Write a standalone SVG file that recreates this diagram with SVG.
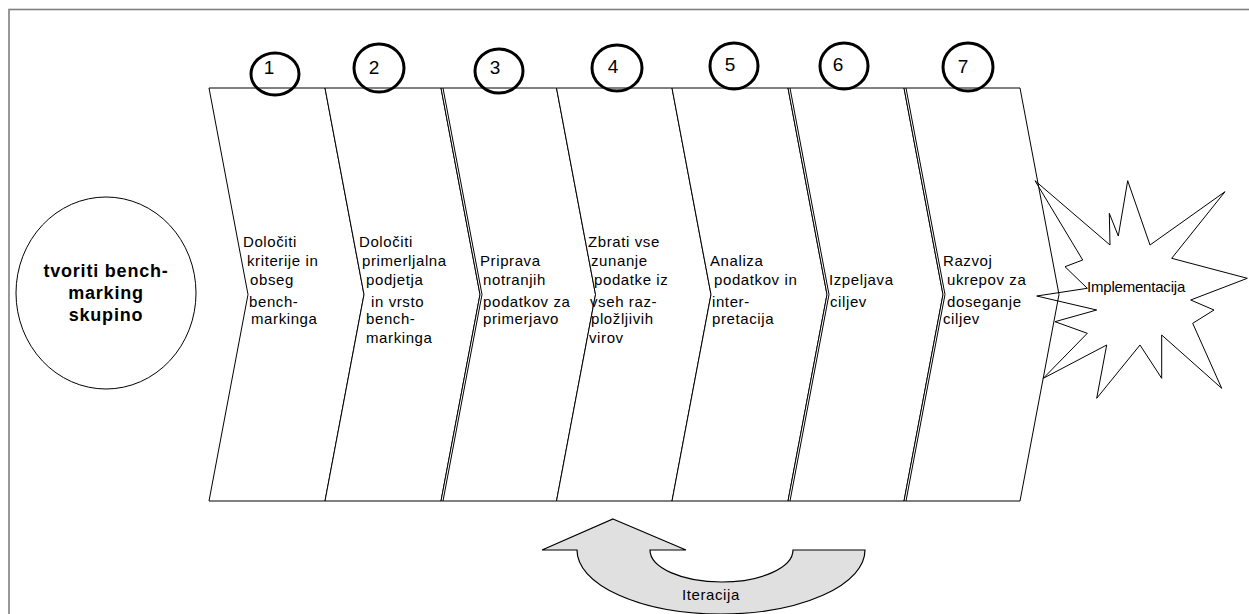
<svg xmlns="http://www.w3.org/2000/svg" width="1249" height="614" viewBox="0 0 1249 614">
  <style>
    .frame { fill: none; stroke: #7f7f7f; stroke-width: 1.6; }
    .chev { fill: #ffffff; stroke: #000000; stroke-width: 1; }
    .dbl { fill: none; stroke: #000000; stroke-width: 1; }
    .num { fill: none; stroke: #000000; stroke-width: 3; }
    .t { font-family: "Liberation Sans", Arial, sans-serif; font-size: 15px; fill: #000000; letter-spacing: 0.6px; }
    .d { font-family: "Liberation Sans", Arial, sans-serif; font-size: 19px; fill: #000000; }
    .b { font-family: "Liberation Sans", Arial, sans-serif; font-size: 18px; font-weight: bold; fill: #000000; text-anchor: middle; letter-spacing: 0.8px; }
    .star { fill: none; stroke: #000000; stroke-width: 1; }
    .loop { fill: #e0e0e0; stroke: #000000; stroke-width: 1.2; }
  </style>

  <rect class="frame" x="9" y="9.5" width="1280" height="640"/>

  <!-- starting group -->
  <g id="group">
    <ellipse cx="106" cy="293" rx="90" ry="96" fill="#ffffff" stroke="#000000" stroke-width="1"/>
    <text class="b" x="106" y="277">tvoriti bench-</text>
    <text class="b" x="106" y="299">marking</text>
    <text class="b" x="106" y="321">skupino</text>
  </g>

  <!-- process steps -->
  <g id="step1">
    <path class="chev" d="M209 88 L325 88 L364 294.5 L325 501 L209 501 L248 294.5 Z"/>
    <text class="t" x="243" y="247">Določiti</text>
    <text class="t" x="247" y="266">kriterije in</text>
    <text class="t" x="250" y="285">obseg</text>
    <text class="t" x="249" y="307">bench-</text>
    <text class="t" x="251" y="324">markinga</text>
  </g>
  <g id="step2">
    <path class="chev" d="M325 88 L441 88 L480 294.5 L441 501 L325 501 L364 294.5 Z"/>
    <text class="t" x="359" y="247">Določiti</text>
    <text class="t" x="362" y="266">primerljalna</text>
    <text class="t" x="366" y="285">podjetja</text>
    <text class="t" x="371" y="307">in vrsto</text>
    <text class="t" x="366" y="324">bench-</text>
    <text class="t" x="366" y="343">markinga</text>
  </g>
  <g id="step3">
    <path class="chev" d="M441 88 L556.5 88 L595.5 294.5 L556.5 501 L441 501 L480 294.5 Z"/>
    <path class="dbl" d="M443 88 L482 294.5 L443 501"/>
    <text class="t" x="480" y="266">Priprava</text>
    <text class="t" x="483" y="285">notranjih</text>
    <text class="t" x="483" y="307">podatkov za</text>
    <text class="t" x="483" y="324">primerjavo</text>
  </g>
  <g id="step4">
    <path class="chev" d="M556.5 88 L672 88 L711 294.5 L672 501 L556.5 501 L595.5 294.5 Z"/>
    <text class="t" x="588" y="247">Zbrati vse</text>
    <text class="t" x="591" y="266">zunanje</text>
    <text class="t" x="594" y="285">podatke iz</text>
    <text class="t" x="590" y="307">vseh raz-</text>
    <text class="t" x="591" y="324">pložljivih</text>
    <text class="t" x="589" y="343">virov</text>
  </g>
  <g id="step5">
    <path class="chev" d="M672 88 L788 88 L827 294.5 L788 501 L672 501 L711 294.5 Z"/>
    <text class="t" x="710" y="266">Analiza</text>
    <text class="t" x="714" y="285">podatkov in</text>
    <text class="t" x="712" y="307">inter-</text>
    <text class="t" x="712" y="324">pretacija</text>
  </g>
  <g id="step6">
    <path class="chev" d="M788 88 L904 88 L943 294.5 L904 501 L788 501 L827 294.5 Z"/>
    <path class="dbl" d="M790 88 L829 294.5 L790 501"/>
    <text class="t" x="829" y="285">Izpeljava</text>
    <text class="t" x="830" y="307">ciljev</text>
  </g>
  <g id="step7">
    <path class="chev" d="M904 88 L1020 88 L1059 294.5 L1020 501 L904 501 L943 294.5 Z"/>
    <path class="dbl" d="M906 88 L945 294.5 L906 501"/>
    <text class="t" x="943" y="266">Razvoj</text>
    <text class="t" x="947" y="285">ukrepov za</text>
    <text class="t" x="947" y="307">doseganje</text>
    <text class="t" x="943" y="324">ciljev</text>
  </g>

  <!-- step numbers -->
  <g id="numbers">
    <ellipse class="num" cx="275" cy="74" rx="24" ry="21"/>
    <text class="d" x="269" y="74" text-anchor="middle">1</text>
    <ellipse class="num" cx="379" cy="68" rx="25" ry="24"/>
    <text class="d" x="374" y="74" text-anchor="middle">2</text>
    <ellipse class="num" cx="499" cy="71" rx="24" ry="22"/>
    <text class="d" x="495" y="74" text-anchor="middle">3</text>
    <ellipse class="num" cx="617" cy="68" rx="25" ry="23"/>
    <text class="d" x="613" y="73" text-anchor="middle">4</text>
    <ellipse class="num" cx="734" cy="66" rx="24" ry="23"/>
    <text class="d" x="730" y="71" text-anchor="middle">5</text>
    <ellipse class="num" cx="844" cy="66" rx="24" ry="23"/>
    <text class="d" x="838" y="71" text-anchor="middle">6</text>
    <ellipse class="num" cx="968" cy="67" rx="25" ry="24"/>
    <text class="d" x="963" y="73" text-anchor="middle">7</text>
  </g>

  <!-- implementation burst -->
  <g id="implementation">
    <polygon class="star" points="1035,180.7 1110,245 1109.3,213.3 1118.3,236 1127.7,180.7 1150,245 1225,191.7 1171.7,258.3 1247.3,278.3 1190.7,300 1214,310 1192.7,323.3 1221.7,388.3 1161.7,335 1161.7,378.3 1140,345 1096.7,398.3 1106.7,345 1043.3,378.3 1087.3,333.3 1055,321.7 1096.7,310 1036.7,296 1087.3,288.3 1065,266.7 1082.7,260"/>
    <text class="t" x="1087" y="292" style="letter-spacing:-0.2px">Implementacija</text>
  </g>

  <!-- iteration loop arrow -->
  <g id="connectors">
    <path class="loop" d="M613 519 L686 550 L650 550 A71.5 32 0 0 0 793 550 L865 550 A144 64 0 0 1 577 550 L542 550 Z"/>
    <text class="t" x="682" y="600">Iteracija</text>
  </g>
</svg>
